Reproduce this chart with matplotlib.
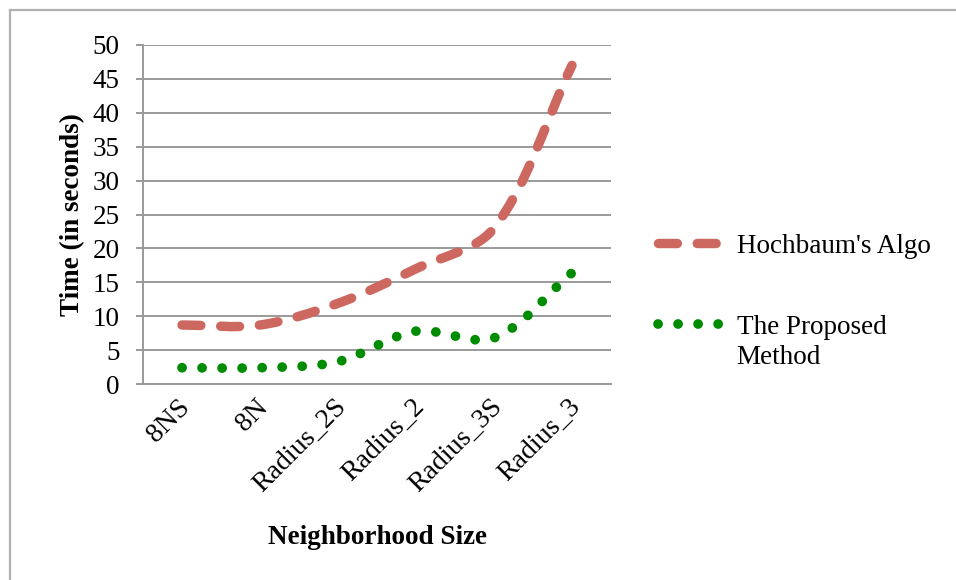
import numpy as np
from matplotlib import pyplot as plt
from matplotlib.path import Path
from matplotlib.patches import PathPatch
from matplotlib.lines import Line2D

plt.rcParams['font.family'] = ['Liberation Serif', 'DejaVu Serif']

categories = ['8NS', '8N', 'Radius_2S', 'Radius_2', 'Radius_3S', 'Radius_3']
hochbaum = [8.7, 8.7, 11.9, 17.0, 23.0, 47.0]
proposed = [2.4, 2.4, 3.3, 7.8, 6.8, 16.4]
y_ticks = [0, 5, 10, 15, 20, 25, 30, 35, 40, 45, 50]

RED = '#CD6860'
GREEN = '#008C00'
GRID = '#9A9A9A'
FS = 19.5


def smooth_path(ax, xs, ys):
    # excel-like smoothed line, tangents scaled by chord length in screen space
    trans = ax.transData
    pts = trans.transform(np.column_stack([xs, ys]).astype(float))
    n = len(pts)
    verts = [pts[0]]
    codes = [Path.MOVETO]
    for i in range(n - 1):
        p0 = pts[max(i - 1, 0)]
        p1 = pts[i]
        p2 = pts[i + 1]
        p3 = pts[min(i + 2, n - 1)]
        d01 = np.hypot(*(p1 - p0))
        d12 = np.hypot(*(p2 - p1))
        d23 = np.hypot(*(p3 - p2))
        f1 = d12 / (d01 + d12) / 3 if d01 + d12 > 0 else 0
        f2 = d12 / (d12 + d23) / 3 if d12 + d23 > 0 else 0
        c1 = p1 + (p2 - p0) * f1
        c2 = p2 - (p3 - p1) * f2
        verts += [c1, c2, p2]
        codes += [Path.CURVE4] * 3
    verts = trans.inverted().transform(np.array(verts))
    return Path(verts, codes)


W, H = 956, 580
fig = plt.figure(figsize=(W / 100, H / 100), dpi=100)

# outer chart border (top and left visible, rest is cut off)
fig.add_artist(Line2D([10 / W, 1.0], [1 - 10 / H, 1 - 10 / H], color='#B0B0B0', lw=1.6))
fig.add_artist(Line2D([10 / W, 10 / W], [0.0, 1 - 10 / H], color='#B0B0B0', lw=1.6))

ax = fig.add_axes([143 / W, (H - 384) / H, (611 - 143) / W, (384 - 45) / H])

x = np.arange(len(categories))
ax.set_xlim(-0.5, len(categories) - 0.5)
ax.set_ylim(0, 50)

red_style = dict(color=RED, lw=6.8, ls=(0, (2.0, 2.1)))
green_style = dict(color=GREEN, lw=7.0, ls=(0, (0.01, 2.05)))

p1 = PathPatch(smooth_path(ax, x, hochbaum), fill=False, edgecolor=RED,
               lw=red_style['lw'], ls=red_style['ls'], capstyle='round', zorder=3)
p2 = PathPatch(smooth_path(ax, x, proposed), fill=False, edgecolor=GREEN,
               lw=green_style['lw'], ls=green_style['ls'], capstyle='round', zorder=3)
ax.add_patch(p1)
ax.add_patch(p2)

ax.set_yticks(y_ticks)
ax.set_yticklabels([str(v) for v in y_ticks], fontsize=FS)
ax.set_xticks(x + 0.06)
ax.set_xticklabels(categories, fontsize=FS + 0.5, rotation=45, ha='right',
                   va='center', rotation_mode='anchor')

ax.yaxis.grid(True, color=GRID, lw=1.4)
ax.set_axisbelow(True)
for s in ['top', 'right']:
    ax.spines[s].set_visible(False)
ax.spines['left'].set_color(GRID)
ax.spines['left'].set_linewidth(1.4)
ax.spines['bottom'].set_color(GRID)
ax.spines['bottom'].set_linewidth(1.4)
ax.tick_params(axis='y', length=5, width=1.4, color=GRID, pad=12)
ax.tick_params(axis='x', length=0, pad=14)

ax.set_ylabel('Time (in seconds)', fontsize=FS, fontweight='bold', labelpad=5)
ax.set_xlabel('Neighborhood Size', fontsize=FS, fontweight='bold', labelpad=20)

handles = [
    Line2D([], [], dash_capstyle='round', **red_style),
    Line2D([], [], dash_capstyle='round', **green_style),
]
leg = fig.legend(handles, ["Hochbaum's Algo", 'The Proposed\nMethod'],
                 loc='upper left', bbox_to_anchor=(658 / W, 1 - 234 / H),
                 frameon=False, fontsize=FS, handlelength=2.4,
                 handletextpad=0.5, labelspacing=2.05, borderpad=0,
                 borderaxespad=0)
for t in leg.get_texts():
    t.set_linespacing(1.3)
# keep handle next to the first line of a wrapped label, like excel does
for col in leg._legend_handle_box.get_children():
    for row in col.get_children():
        row.align = 'top'

fig.savefig('out.png', dpi=100)
